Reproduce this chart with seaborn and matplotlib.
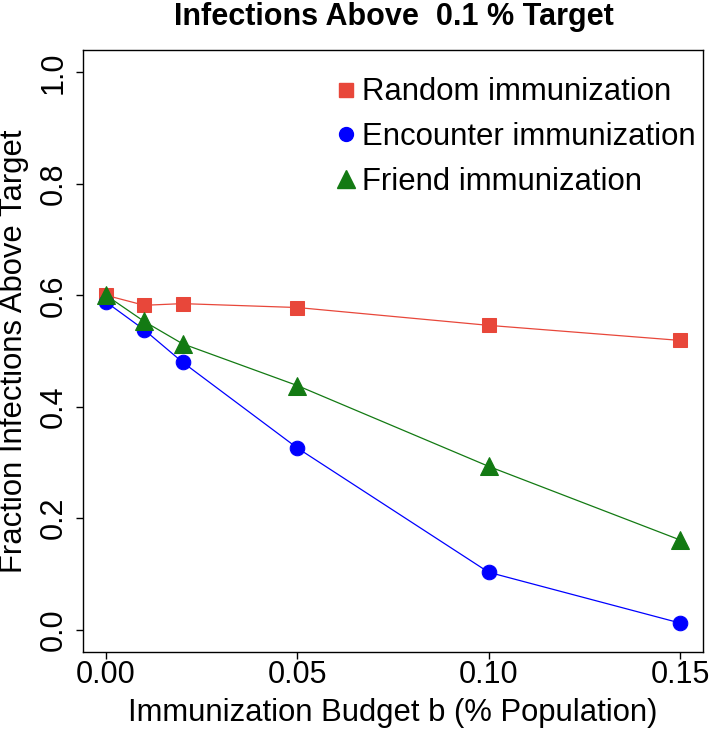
import matplotlib
matplotlib.use("Agg")
import matplotlib.pyplot as plt
import seaborn as sns
import pandas as pd
from matplotlib.lines import Line2D

budget = [0.00, 0.01, 0.02, 0.05, 0.10, 0.15]
random_imm = [0.600, 0.582, 0.585, 0.578, 0.546, 0.519]
encounter_imm = [0.588, 0.538, 0.480, 0.326, 0.103, 0.012]
friend_imm = [0.600, 0.553, 0.513, 0.438, 0.293, 0.161]
series_names = ["Random immunization", "Encounter immunization", "Friend immunization"]
x_ticks = [0.00, 0.05, 0.10, 0.15]
x_tick_labels = ["0.00", "0.05", "0.10", "0.15"]
y_ticks = [0.0, 0.2, 0.4, 0.6, 0.8, 1.0]
y_tick_labels = ["0.0", "0.2", "0.4", "0.6", "0.8", "1.0"]

colors = {"Random immunization": "#E8473A",
          "Encounter immunization": "#0000FF",
          "Friend immunization": "#137A13"}
markers = {"Random immunization": "s",
           "Encounter immunization": "o",
           "Friend immunization": "^"}
msizes = {"Random immunization": 10.5,
          "Encounter immunization": 10.5,
          "Friend immunization": 13.5}
leg_sizes = {"Random immunization": 9.5,
             "Encounter immunization": 10,
             "Friend immunization": 13}

df = pd.DataFrame({
    "budget": budget * 3,
    "value": random_imm + encounter_imm + friend_imm,
    "series": [s for s in series_names for _ in budget],
})

sns.set_style("white")
plt.rcParams["font.family"] = ["Liberation Sans", "DejaVu Sans"]
plt.rcParams["text.color"] = "black"
plt.rcParams["axes.labelcolor"] = "black"
plt.rcParams["xtick.color"] = "black"
plt.rcParams["ytick.color"] = "black"

fig = plt.figure(figsize=(7.11, 7.33), dpi=100)
ax = fig.add_axes([83 / 711, 1 - 652 / 733, (703 - 83) / 711, (652 - 50) / 733])

for name in series_names:
    sub = df[df["series"] == name]
    sns.lineplot(data=sub, x="budget", y="value", ax=ax, color=colors[name],
                 marker=markers[name], markersize=msizes[name],
                 markeredgecolor=colors[name], linewidth=0.9, legend=False)

ax.set_xlim(-0.006, 0.156)
ax.set_ylim(-0.04, 1.04)
ax.set_xticks(x_ticks)
ax.set_xticklabels(x_tick_labels)
ax.set_yticks(y_ticks)
ax.set_yticklabels(y_tick_labels, rotation=90, va="center")
ax.tick_params(axis="both", direction="out", length=5, width=1, color="black",
               labelcolor="black", labelsize=22, bottom=True, left=True)
ax.tick_params(axis="x", pad=0.5)
ax.tick_params(axis="y", pad=5.5)
for sp in ax.spines.values():
    sp.set_color("black")
    sp.set_linewidth(1.0)
    sp.set_visible(True)

ax.set_xlabel("Immunization Budget b (% Population)", fontsize=22.3, color="black")
ax.set_ylabel("Fraction Infections Above Target", fontsize=22.3, color="black")
ax.xaxis.set_label_coords(0.5, -0.0756)
ax.yaxis.set_label_coords(-0.0863, 0.5)
fig.text(394 / 711, 1 - 25 / 733, "Infections Above  0.1 % Target", ha="center",
         va="baseline", fontsize=22, fontweight="bold", color="black")

handles = [Line2D([], [], linestyle="none", marker=markers[n], color=colors[n],
                  markersize=leg_sizes[n]) for n in series_names]
leg = ax.legend(handles, series_names, loc="upper left", bbox_to_anchor=(0.384, 0.975),
                frameon=False, fontsize=22.4, handletextpad=0.1, labelspacing=0.47,
                handlelength=0.8, borderaxespad=0)
for t in leg.get_texts():
    t.set_color("black")

fig.savefig("out.png", dpi=100)
